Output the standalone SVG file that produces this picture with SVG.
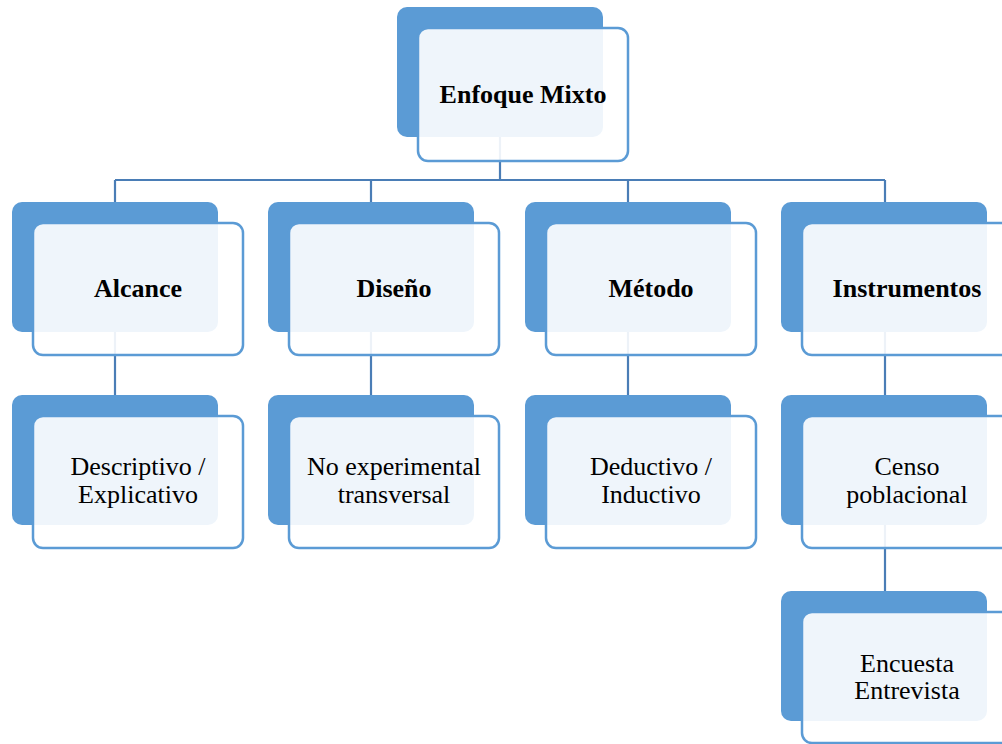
<svg xmlns="http://www.w3.org/2000/svg" width="1002" height="744" viewBox="0 0 1002 744">
<style>
.back{fill:#5B9BD5;}
.front{fill:#FFFFFF;fill-opacity:0.9;stroke:#5B9BD5;stroke-width:2.5;}
.conn{stroke:#4A7DB6;stroke-width:2.2;fill:none;}
.t{font-family:"Liberation Serif","Times New Roman",serif;font-size:26px;fill:#000;text-anchor:middle;}
.b{font-weight:bold;}
</style>
<rect width="1002" height="744" fill="#FFFFFF"/>
<g id="connectors">
<path class="conn" d="M500,72 V180 M115,180 H885 M115,180 V267 M371,180 V267 M628,180 V267 M885,180 V267"/>
<path class="conn" d="M115,267 V460 M371,267 V460 M628,267 V460 M885,267 V656"/>
</g>
<g id="n-enfoque">
<rect class="back" x="397" y="7" width="206" height="130" rx="10"/>
<rect class="front" x="418" y="28" width="210" height="133" rx="10"/>
<text class="t b" x="523" y="103">Enfoque Mixto</text>
</g>
<g id="n-alcance">
<rect class="back" x="12" y="202" width="206" height="130" rx="10"/>
<rect class="front" x="33" y="223" width="210" height="132" rx="10"/>
<text class="t b" x="138" y="297">Alcance</text>
</g>
<g id="n-diseno">
<rect class="back" x="268" y="202" width="206" height="130" rx="10"/>
<rect class="front" x="289" y="223" width="210" height="132" rx="10"/>
<text class="t b" x="394" y="297">Diseño</text>
</g>
<g id="n-metodo">
<rect class="back" x="525" y="202" width="206" height="130" rx="10"/>
<rect class="front" x="546" y="223" width="210" height="132" rx="10"/>
<text class="t b" x="651" y="297">Método</text>
</g>
<g id="n-instrumentos">
<rect class="back" x="781" y="202" width="206" height="130" rx="10"/>
<rect class="front" x="802" y="223" width="210" height="132" rx="10"/>
<text class="t b" x="907" y="297">Instrumentos</text>
</g>
<g id="n-descriptivo">
<rect class="back" x="12" y="395" width="206" height="130" rx="10"/>
<rect class="front" x="33" y="416" width="210" height="132" rx="10"/>
<text class="t" x="138" y="475">Descriptivo /</text>
<text class="t" x="138" y="503">Explicativo</text>
</g>
<g id="n-noexperimental">
<rect class="back" x="268" y="395" width="206" height="130" rx="10"/>
<rect class="front" x="289" y="416" width="210" height="132" rx="10"/>
<text class="t" x="394" y="475">No experimental</text>
<text class="t" x="394" y="503">transversal</text>
</g>
<g id="n-deductivo">
<rect class="back" x="525" y="395" width="206" height="130" rx="10"/>
<rect class="front" x="546" y="416" width="210" height="132" rx="10"/>
<text class="t" x="651" y="475">Deductivo /</text>
<text class="t" x="651" y="503">Inductivo</text>
</g>
<g id="n-censo">
<rect class="back" x="781" y="395" width="206" height="130" rx="10"/>
<rect class="front" x="802" y="416" width="210" height="132" rx="10"/>
<text class="t" x="907" y="475">Censo</text>
<text class="t" x="907" y="503">poblacional</text>
</g>
<g id="n-encuesta">
<rect class="back" x="781" y="591" width="206" height="130" rx="10"/>
<rect class="front" x="802" y="612" width="210" height="131" rx="10"/>
<text class="t" x="907" y="672">Encuesta</text>
<text class="t" x="907" y="699">Entrevista</text>
</g>
</svg>
